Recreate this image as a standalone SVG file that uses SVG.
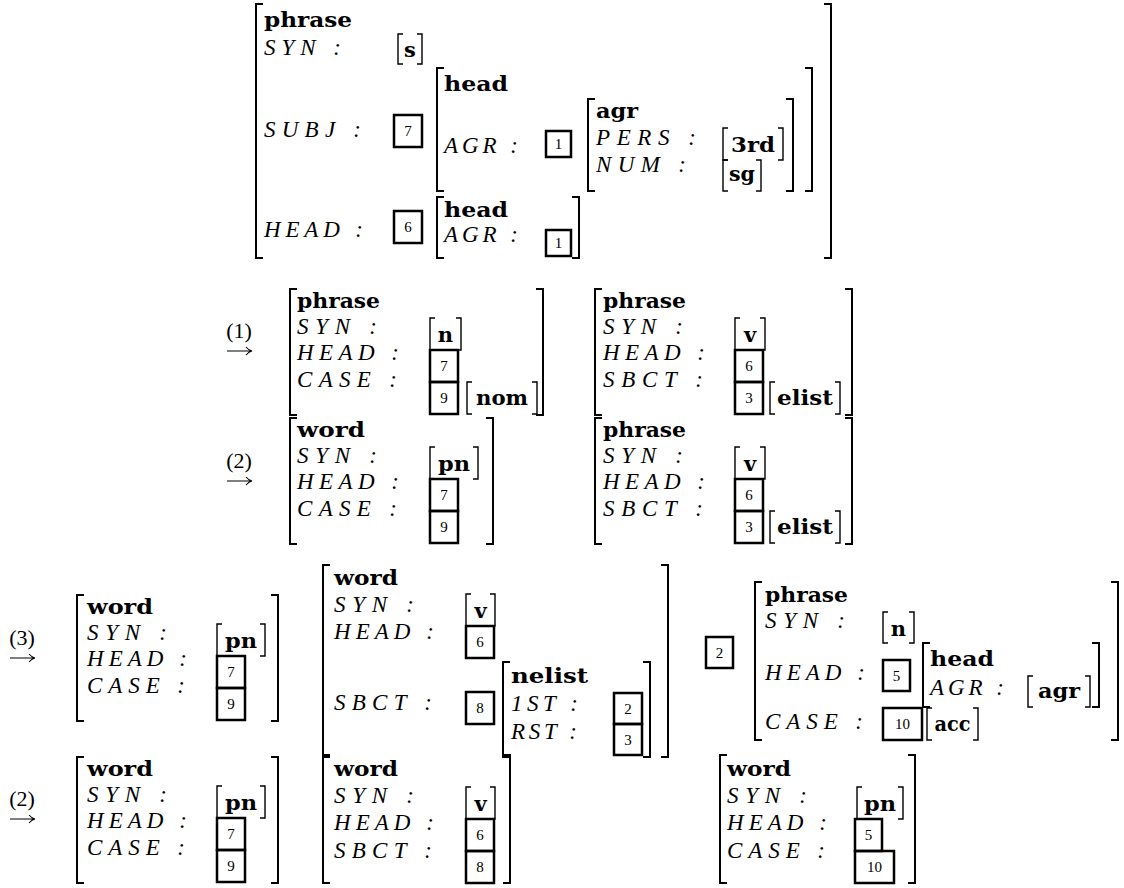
<svg xmlns="http://www.w3.org/2000/svg" width="1124" height="888" viewBox="0 0 1124 888">
<style>
.b{font-family:"DejaVu Serif","Liberation Serif",serif;font-weight:bold;font-size:21px}
.v{font-family:"DejaVu Serif","Liberation Serif",serif;font-weight:bold;font-size:21px;text-anchor:middle}
.l{font-family:"Liberation Serif",serif;font-style:italic;font-size:23px}
.d{font-family:"Liberation Serif",serif;font-size:15px;text-anchor:middle}
.n{font-family:"Liberation Serif",serif;font-size:22px;text-anchor:middle}
.br{fill:none;stroke:#000;stroke-width:2}
.vb{fill:none;stroke:#000;stroke-width:1.4}
.bx{fill:none;stroke:#000;stroke-width:2.5}
.ar{fill:none;stroke:#000;stroke-width:1.1}
</style>
<rect width="1124" height="888" fill="#fff"/>

<g id="arrows">
<text class="n" x="239" y="338">(1)</text>
<path class="ar" d="M227,351H251M246,347Q249,350.5 252,351Q249,351.5 246,355"/>
<text class="n" x="239" y="468">(2)</text>
<path class="ar" d="M227,481H251M246,477Q249,480.5 252,481Q249,481.5 246,485"/>
<text class="n" x="22" y="645">(3)</text>
<path class="ar" d="M10,658H34M29,654Q32,657.5 35,658Q32,658.5 29,662"/>
<text class="n" x="22" y="806">(2)</text>
<path class="ar" d="M10,819H34M29,815Q32,818.5 35,819Q32,819.5 29,823"/>
</g>

<g id="avm-top">
<path class="br" d="M263,4H256V258H263"/>
<path class="br" d="M824,4H831V258H824"/>
<text class="b" x="264" y="27" textLength="88" lengthAdjust="spacingAndGlyphs">phrase</text>
<text class="l" x="264" y="55" textLength="77">SYN :</text>
<path class="vb" d="M403,34H398V64H403M417,34H422V64H417"/><text class="v" x="410" y="57">s</text>
<text class="l" x="264" y="137" textLength="97">SUBJ :</text>
<rect class="bx" x="394" y="115" width="28" height="32"/><text class="d" x="408" y="136">7</text>
<g id="avm-top-subj">
<path class="br" d="M444,68H437V191H444"/>
<path class="br" d="M805,68H812V191H805"/>
<text class="b" x="444" y="91" textLength="64" lengthAdjust="spacingAndGlyphs">head</text>
<text class="l" x="444" y="153" textLength="74">AGR :</text>
<rect class="bx" x="546" y="131" width="25" height="26"/><text class="d" x="558.5" y="149">1</text>
<g id="avm-top-agr">
<path class="br" d="M595,99H588V191H595"/>
<path class="br" d="M786,99H793V191H786"/>
<text class="b" x="596" y="118" textLength="42" lengthAdjust="spacingAndGlyphs">agr</text>
<text class="l" x="596" y="145" textLength="100">PERS :</text>
<text class="l" x="596" y="172" textLength="90">NUM :</text>
<path class="vb" d="M728,128H723V160H728M778,128H783V160H778"/><text class="v" x="753" y="152" textLength="44" lengthAdjust="spacingAndGlyphs">3rd</text>
<path class="vb" d="M728,160H723V191H728M756,160H761V191H756"/><text class="v" x="742" y="181" textLength="26" lengthAdjust="spacingAndGlyphs">sg</text>
</g>
</g>
<text class="l" x="264" y="237" textLength="99">HEAD :</text>
<rect class="bx" x="394" y="211" width="28" height="32"/><text class="d" x="408" y="232">6</text>
<g id="avm-top-head">
<path class="br" d="M444,197H437V258H444"/>
<path class="br" d="M572,197H579V258H572"/>
<text class="b" x="444" y="217" textLength="64" lengthAdjust="spacingAndGlyphs">head</text>
<text class="l" x="444" y="242" textLength="74">AGR :</text>
<rect class="bx" x="546" y="230" width="25" height="26"/><text class="d" x="558.5" y="248">1</text>
</g>
</g>

<g id="avm-r1-left">
<path class="br" d="M297,289H290V415H297"/>
<path class="br" d="M536,289H543V415H536"/>
<text class="b" x="297" y="308" textLength="83" lengthAdjust="spacingAndGlyphs">phrase</text>
<text class="l" x="297" y="334" textLength="80">SYN :</text>
<text class="l" x="297" y="360" textLength="102">HEAD :</text>
<text class="l" x="297" y="387" textLength="100">CASE :</text>
<path class="vb" d="M435,318H430V350H435M456,318H461V350H456"/><text class="v" x="445.5" y="342">n</text>
<rect class="bx" x="430" y="350" width="28" height="32"/><text class="d" x="444" y="371">7</text>
<rect class="bx" x="430" y="382" width="28" height="32"/><text class="d" x="444" y="403">9</text>
<path class="vb" d="M472,382H467V414H472M532,382H537V414H532"/><text class="v" x="502" y="405" textLength="52" lengthAdjust="spacingAndGlyphs">nom</text>
</g>

<g id="avm-r1-right">
<path class="br" d="M602,289H595V415H602"/>
<path class="br" d="M845,289H852V415H845"/>
<text class="b" x="603" y="308" textLength="83" lengthAdjust="spacingAndGlyphs">phrase</text>
<text class="l" x="603" y="334" textLength="80">SYN :</text>
<text class="l" x="603" y="360" textLength="102">HEAD :</text>
<text class="l" x="603" y="387" textLength="100">SBCT :</text>
<path class="vb" d="M740,318H735V350H740M760,318H765V350H760"/><text class="v" x="750" y="342">v</text>
<rect class="bx" x="735" y="350" width="28" height="32"/><text class="d" x="749" y="371">6</text>
<rect class="bx" x="735" y="382" width="28" height="32"/><text class="d" x="749" y="403">3</text>
<path class="vb" d="M775,382H770V414H775M835,382H840V414H835"/><text class="v" x="805" y="405" textLength="56" lengthAdjust="spacingAndGlyphs">elist</text>
</g>

<g id="avm-r2-left">
<path class="br" d="M297,418H290V544H297"/>
<path class="br" d="M486,418H493V544H486"/>
<text class="b" x="297" y="437" textLength="68" lengthAdjust="spacingAndGlyphs">word</text>
<text class="l" x="297" y="463" textLength="80">SYN :</text>
<text class="l" x="297" y="489" textLength="102">HEAD :</text>
<text class="l" x="297" y="516" textLength="100">CASE :</text>
<path class="vb" d="M435,447H430V479H435M473,447H478V479H473"/><text class="v" x="454" y="471" textLength="32" lengthAdjust="spacingAndGlyphs">pn</text>
<rect class="bx" x="430" y="479" width="28" height="32"/><text class="d" x="444" y="500">7</text>
<rect class="bx" x="430" y="511" width="28" height="32"/><text class="d" x="444" y="532">9</text>
</g>

<g id="avm-r2-right">
<path class="br" d="M602,418H595V544H602"/>
<path class="br" d="M845,418H852V544H845"/>
<text class="b" x="603" y="437" textLength="83" lengthAdjust="spacingAndGlyphs">phrase</text>
<text class="l" x="603" y="463" textLength="80">SYN :</text>
<text class="l" x="603" y="489" textLength="102">HEAD :</text>
<text class="l" x="603" y="516" textLength="100">SBCT :</text>
<path class="vb" d="M740,447H735V479H740M760,447H765V479H760"/><text class="v" x="750" y="471">v</text>
<rect class="bx" x="735" y="479" width="28" height="32"/><text class="d" x="749" y="500">6</text>
<rect class="bx" x="735" y="511" width="28" height="32"/><text class="d" x="749" y="532">3</text>
<path class="vb" d="M775,511H770V543H775M835,511H840V543H835"/><text class="v" x="805" y="534" textLength="56" lengthAdjust="spacingAndGlyphs">elist</text>
</g>

<g id="avm-r3-left">
<path class="br" d="M84,595H77V721H84"/>
<path class="br" d="M271,595H278V721H271"/>
<text class="b" x="87" y="614" textLength="66" lengthAdjust="spacingAndGlyphs">word</text>
<text class="l" x="87" y="640" textLength="80">SYN :</text>
<text class="l" x="87" y="666" textLength="100">HEAD :</text>
<text class="l" x="87" y="693" textLength="98">CASE :</text>
<path class="vb" d="M222,624H217V656H222M260,624H265V656H260"/><text class="v" x="241" y="648" textLength="32" lengthAdjust="spacingAndGlyphs">pn</text>
<rect class="bx" x="217" y="656" width="28" height="32"/><text class="d" x="231" y="677">7</text>
<rect class="bx" x="217" y="688" width="28" height="32"/><text class="d" x="231" y="709">9</text>
</g>

<g id="avm-r3-mid">
<path class="br" d="M330,565H323V757H330"/>
<path class="br" d="M661,565H668V757H661"/>
<text class="b" x="334" y="585" textLength="64" lengthAdjust="spacingAndGlyphs">word</text>
<text class="l" x="334" y="612" textLength="80">SYN :</text>
<text class="l" x="334" y="639" textLength="100">HEAD :</text>
<text class="l" x="334" y="710" textLength="98">SBCT :</text>
<path class="vb" d="M471,594H466V626H471M490,594H495V626H490"/><text class="v" x="480.5" y="618">v</text>
<rect class="bx" x="466" y="626" width="28" height="32"/><text class="d" x="480" y="647">6</text>
<rect class="bx" x="466" y="692" width="28" height="32"/><text class="d" x="480" y="713">8</text>
<g id="avm-r3-nelist">
<path class="br" d="M510,662H503V757H510"/>
<path class="br" d="M643,662H650V757H643"/>
<text class="b" x="511" y="683" textLength="77" lengthAdjust="spacingAndGlyphs">nelist</text>
<text class="l" x="511" y="711" textLength="67">1ST :</text>
<text class="l" x="511" y="739" textLength="66">RST :</text>
<rect class="bx" x="614" y="693" width="28" height="31"/><text class="d" x="628" y="714">2</text>
<rect class="bx" x="614" y="724" width="28" height="31"/><text class="d" x="628" y="745">3</text>
</g>
</g>

<g id="avm-r3-right">
<rect class="bx" x="706" y="637" width="27" height="31"/><text class="d" x="719.5" y="658">2</text>
<path class="br" d="M762,582H755V740H762"/>
<path class="br" d="M1111,582H1118V740H1111"/>
<text class="b" x="765" y="602" textLength="83" lengthAdjust="spacingAndGlyphs">phrase</text>
<text class="l" x="765" y="628" textLength="80">SYN :</text>
<text class="l" x="765" y="680" textLength="100">HEAD :</text>
<text class="l" x="765" y="729" textLength="98">CASE :</text>
<path class="vb" d="M888,612H883V643H888M909,612H914V643H909"/><text class="v" x="898.5" y="636">n</text>
<rect class="bx" x="883" y="660" width="27" height="31"/><text class="d" x="896.5" y="681">5</text>
<g id="avm-r3-right-head">
<path class="br" d="M930,643H923V707H930"/>
<path class="br" d="M1092,643H1099V707H1092"/>
<text class="b" x="930" y="666" textLength="64" lengthAdjust="spacingAndGlyphs">head</text>
<text class="l" x="930" y="695" textLength="74">AGR :</text>
<path class="vb" d="M1033,676H1028V707H1033M1085,676H1090V707H1085"/><text class="v" x="1059" y="698" textLength="42" lengthAdjust="spacingAndGlyphs">agr</text>
</g>
<rect class="bx" x="883" y="708" width="39" height="32"/><text class="d" x="902.5" y="729">10</text>
<path class="vb" d="M932,708H927V740H932M973,708H978V740H973"/><text class="v" x="952.5" y="731" textLength="36" lengthAdjust="spacingAndGlyphs">acc</text>
</g>

<g id="avm-r4-left">
<path class="br" d="M84,757H77V883H84"/>
<path class="br" d="M271,757H278V883H271"/>
<text class="b" x="87" y="776" textLength="66" lengthAdjust="spacingAndGlyphs">word</text>
<text class="l" x="87" y="802" textLength="80">SYN :</text>
<text class="l" x="87" y="828" textLength="100">HEAD :</text>
<text class="l" x="87" y="855" textLength="98">CASE :</text>
<path class="vb" d="M222,786H217V818H222M260,786H265V818H260"/><text class="v" x="241" y="810" textLength="32" lengthAdjust="spacingAndGlyphs">pn</text>
<rect class="bx" x="217" y="818" width="28" height="32"/><text class="d" x="231" y="839">7</text>
<rect class="bx" x="217" y="850" width="28" height="32"/><text class="d" x="231" y="871">9</text>
</g>

<g id="avm-r4-mid">
<path class="br" d="M330,755H323V883H330"/>
<path class="br" d="M503,755H510V883H503"/>
<text class="b" x="334" y="776" textLength="64" lengthAdjust="spacingAndGlyphs">word</text>
<text class="l" x="334" y="803" textLength="80">SYN :</text>
<text class="l" x="334" y="830" textLength="100">HEAD :</text>
<text class="l" x="334" y="858" textLength="98">SBCT :</text>
<path class="vb" d="M471,787H466V819H471M490,787H495V819H490"/><text class="v" x="480.5" y="811">v</text>
<rect class="bx" x="466" y="819" width="28" height="32"/><text class="d" x="480" y="840">6</text>
<rect class="bx" x="466" y="851" width="28" height="32"/><text class="d" x="480" y="872">8</text>
</g>

<g id="avm-r4-right">
<path class="br" d="M727,755H720V883H727"/>
<path class="br" d="M908,755H915V883H908"/>
<text class="b" x="727" y="776" textLength="64" lengthAdjust="spacingAndGlyphs">word</text>
<text class="l" x="727" y="803" textLength="80">SYN :</text>
<text class="l" x="727" y="830" textLength="100">HEAD :</text>
<text class="l" x="727" y="858" textLength="98">CASE :</text>
<path class="vb" d="M862,787H857V819H862M898,787H903V819H898"/><text class="v" x="880" y="811" textLength="32" lengthAdjust="spacingAndGlyphs">pn</text>
<rect class="bx" x="855" y="819" width="27" height="32"/><text class="d" x="868.5" y="840">5</text>
<rect class="bx" x="855" y="851" width="39" height="32"/><text class="d" x="874.5" y="872">10</text>
</g>
</svg>
